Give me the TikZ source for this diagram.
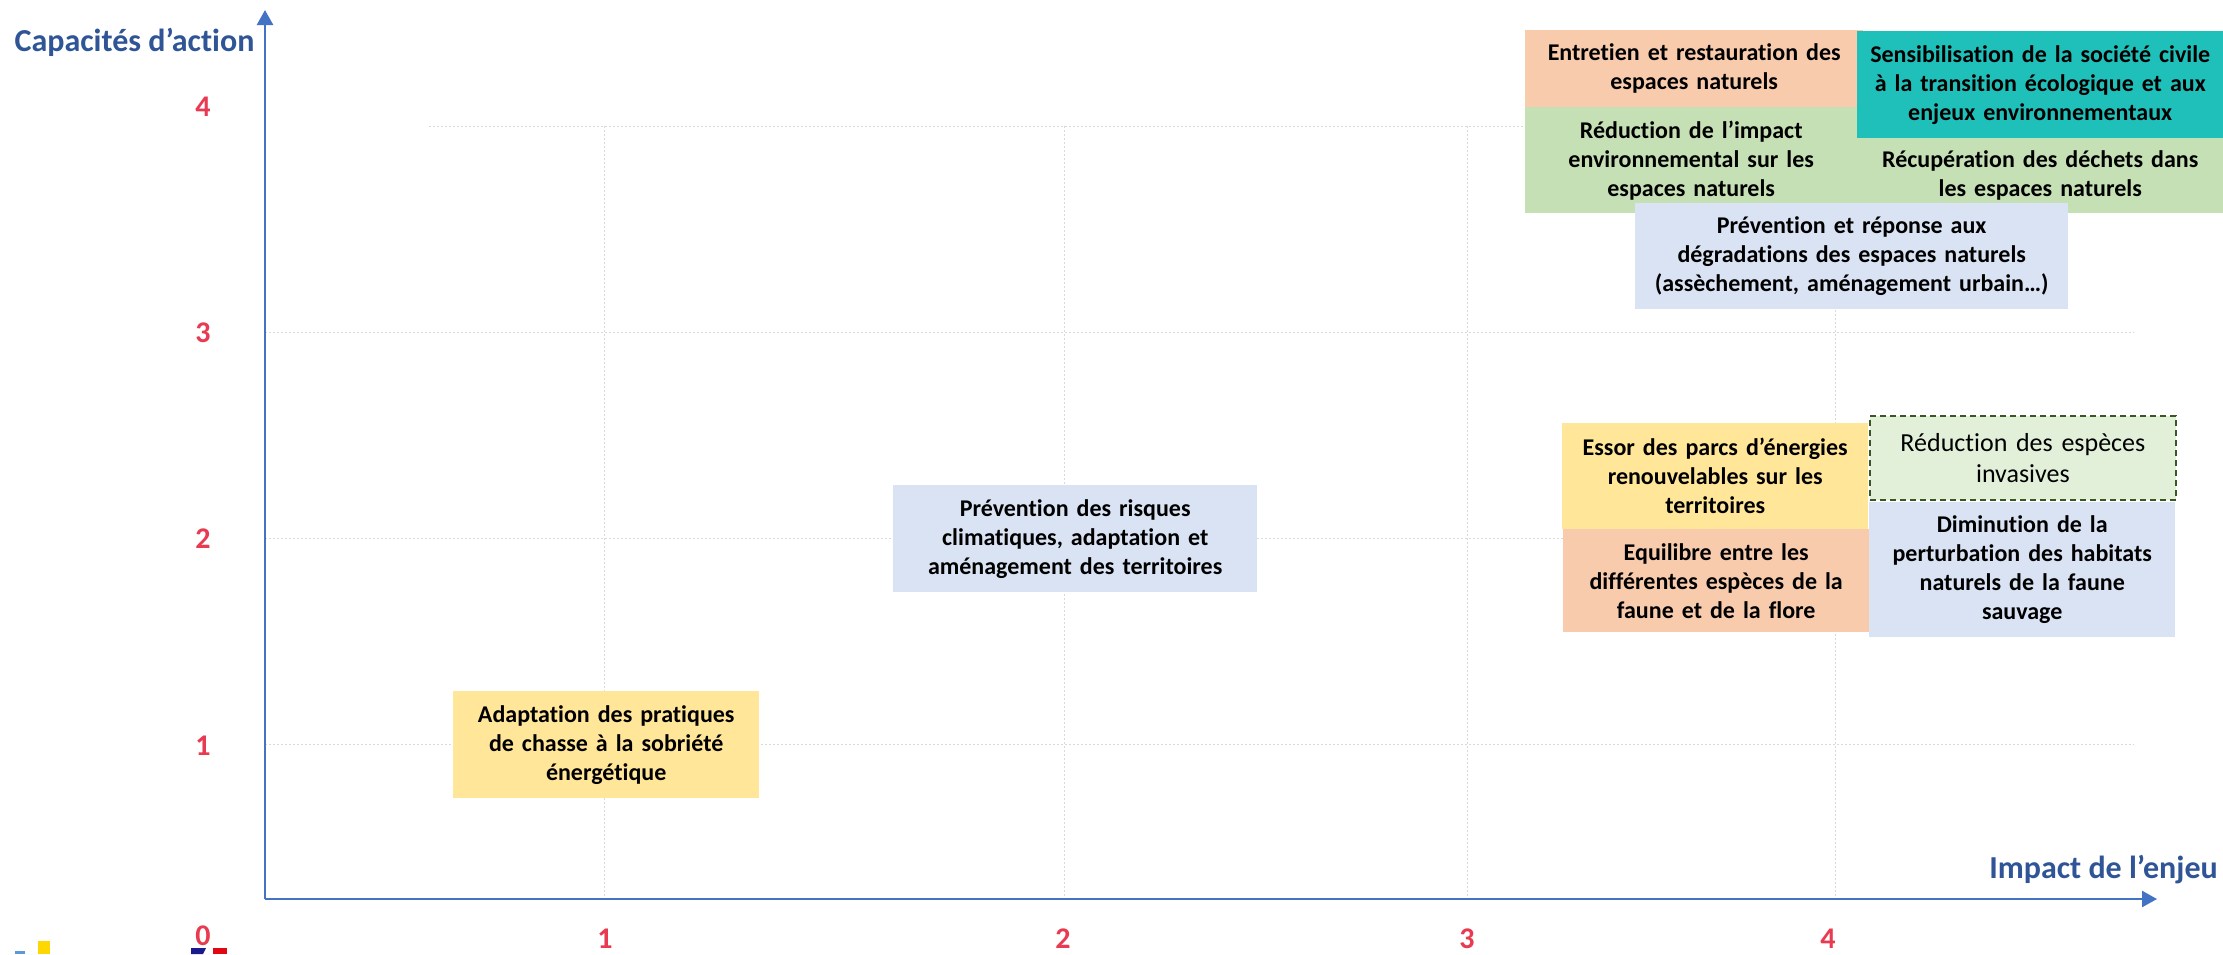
\documentclass[tikz,border=0pt]{standalone}
\usepackage{fontspec}
\setmainfont{Carlito}[Ligatures=NoCommon]
\usetikzlibrary{arrows.meta}
\definecolor{axisblue}{HTML}{4472C4}
\definecolor{titleblue}{HTML}{2F5597}
\definecolor{numred}{HTML}{E83A51}
\definecolor{peach}{HTML}{F8CBAD}
\definecolor{teal}{HTML}{20C0BA}
\definecolor{lgreen}{HTML}{C5E0B4}
\definecolor{vlgreen}{HTML}{E2F0D9}
\definecolor{dgreen}{HTML}{385723}
\definecolor{lblue}{HTML}{DAE3F3}
\definecolor{lyellow}{HTML}{FFE699}
\definecolor{gridgrey}{HTML}{D9D9D9}
\definecolor{logoblue}{HTML}{5B9BD5}
\definecolor{logoyellow}{HTML}{FFD700}
\definecolor{logonavy}{HTML}{1A1A8C}
\definecolor{logored}{HTML}{E30613}
\begin{document}
\begin{tikzpicture}[x=1pt,y=-1pt,
  box/.style={rectangle, inner ysep=0pt, inner xsep=4pt, align=center, anchor=north west,
    font=\bfseries\fontsize{24}{29}\selectfont, text=black},
  gridline/.style={gridgrey, line width=1pt, dash pattern=on 2pt off 2pt},
  axisline/.style={axisblue, line width=2.5pt, -{Triangle[width=16pt,length=15pt]}},
  axtitle/.style={titleblue, font=\bfseries\fontsize{32}{38}\selectfont, inner sep=0pt},
  num/.style={numred, font=\bfseries\fontsize{30}{36}\selectfont, inner sep=0pt}
]
\useasboundingbox (0,0) rectangle (2223,954);
\fill[white] (0,0) rectangle (2223,954);

% grid
\draw[gridline] (429,126) -- (2134,126);
\draw[gridline] (265,332) -- (2134,332);
\draw[gridline] (265,538) -- (2134,538);
\draw[gridline] (265,744) -- (2134,744);
\foreach \gx in {604,1064,1467,1835} {\draw[gridline] (\gx,126) -- (\gx,896);}

% axes
\coordinate (O) at (265,899);
\coordinate (ytip) at (265,10);
\coordinate (xtip) at (2157,899);
\draw[axisline] (O) -- (ytip);
\draw[axisline] (O) -- (xtip);

\node[axtitle] (ytitle) at (134.5,42) {Capacités d’action};
\node[axtitle] (xtitle) at (2103.5,870) {Impact de l’enjeu};

% numbers
\node[num] (y4) at (203,107) {4};
\node[num] (y3) at (203,333) {3};
\node[num] (y2) at (203,539) {2};
\node[num] (y1) at (203,746) {1};
\node[num] (y0) at (203,936) {0};
\node[num] (x1) at (605,939) {1};
\node[num] (x2) at (1063,939) {2};
\node[num] (x3) at (1467,939) {3};
\node[num] (x4) at (1828,939) {4};

% boxes
\node[box, fill=peach, text width=330pt, minimum height=77pt] (entretien) at (1525,30)
  {Entretien et restauration des\\espaces naturels};
\node[box, fill=lgreen, text width=324pt, minimum height=106pt] (reduc) at (1525,107)
  {Réduction de l’impact\\environnemental sur les\\espaces naturels};
\node[box, fill=lgreen, text width=358pt, minimum height=75pt] (recup) at (1857,138)
  {Récupération des déchets dans\\les espaces naturels};
\node[box, fill=teal, text width=358pt, minimum height=107pt] (sensib) at (1857,31)
  {Sensibilisation de la société civile\\à la transition écologique et aux\\enjeux environnementaux};
\node[box, fill=lblue, text width=425pt, minimum height=106pt] (prevrep) at (1635,203)
  {Prévention et réponse aux\\dégradations des espaces naturels\\(assèchement, aménagement urbain…)};

\node[box, fill=lyellow, text width=298pt, minimum height=106pt] (essor) at (1562,423)
  {Essor des parcs d’énergies\\renouvelables sur les\\territoires};
\node[box, fill=peach, text width=298pt, minimum height=103pt] (equil) at (1563,529)
  {Equilibre entre les\\différentes espèces de la\\faune et de la flore};
\node[box, fill=vlgreen, draw=dgreen, dash pattern=on 6pt off 4pt, line width=1.8pt, text width=298pt, minimum height=84pt,
  font=\fontsize{26}{31}\selectfont] (invas) at (1869,415)
  {Réduction des espèces\\invasives};
\node[box, fill=lblue, text width=298pt, minimum height=135pt] (dimin) at (1869,502)
  {Diminution de la\\perturbation des habitats\\naturels de la faune\\sauvage};

\node[box, fill=lblue, text width=356pt, minimum height=107pt] (prevrisq) at (893,485)
  {Prévention des risques\\climatiques, adaptation et\\aménagement des territoires};
\node[box, fill=lyellow, text width=298pt, minimum height=107pt] (adapt) at (453,691)
  {Adaptation des pratiques\\de chasse à la sobriété\\énergétique};

% logo fragments
\fill[logoblue] (15,951) rectangle (25,954);
\fill[logoyellow] (38,941) rectangle (50,954);
\fill[logonavy] (191,948) -- (206,948) -- (203,954) -- (191,954) -- cycle;
\fill[logored] (213,948) rectangle (227,954);
\end{tikzpicture}
\end{document}
